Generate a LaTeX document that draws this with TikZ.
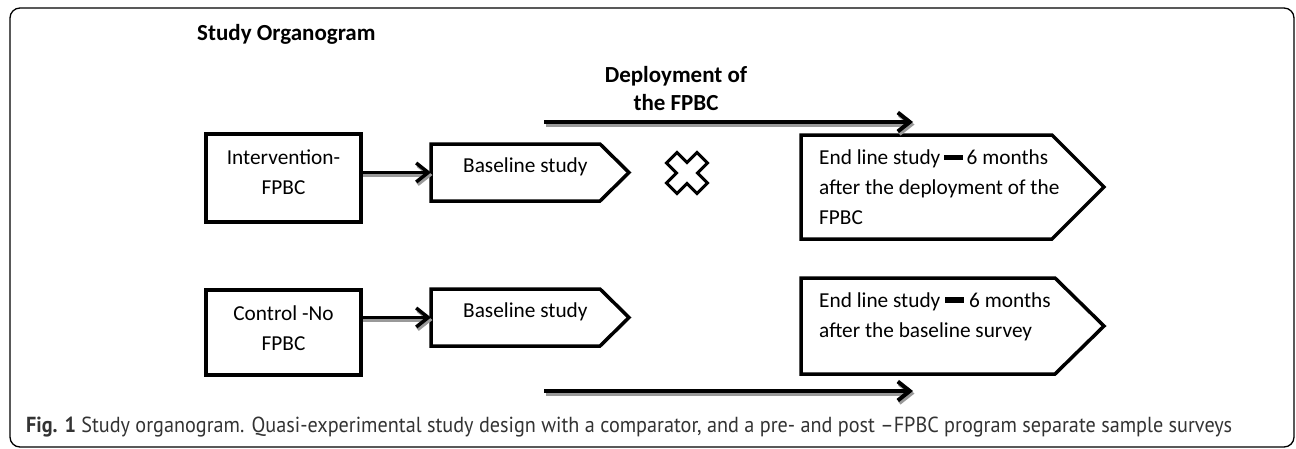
\documentclass[tikz,border=0pt]{standalone}
\usepackage{fontspec}
\setmainfont{Carlito}
\newfontfamily\capfont{PT Sans}
\usetikzlibrary{arrows.meta,calc}
\newcommand\mybar{\rule[0.22em]{0.9em}{0.24em}}
\begin{document}
\begin{tikzpicture}[x=1pt,y=-1pt,
  shp/.style={draw=none, outer sep=0pt, inner sep=0pt},
  boxln/.style={draw=black, line width=3.5pt, line join=miter},
  txt/.style={inner sep=0pt, font=\fontsize{21.3}{30}\selectfont},
  bold/.style={inner sep=0pt, font=\bfseries\fontsize{23}{28}\selectfont},
  arr/.style={line width=3.5pt, -{Straight Barb[length=12pt,width=19pt]}},
  arrsh/.style={arr, draw=black!40, transform canvas={shift={(1.5pt,-2.5pt)}}}]
\useasboundingbox (0,0) rectangle (1296,448);
% frame
\draw[line width=1.3pt, rounded corners=10pt] (10,8) rectangle (1294,447);
% title
\node[bold, anchor=west] (title) at (197,34) {Study Organogram};
\node[bold, align=center] (dep) at (676,89) {Deployment of\\the FPBC};
% boxes
\node[shp, minimum width=155pt, minimum height=88pt] (int) at (283.5,178) {};
\node[shp, minimum width=155pt, minimum height=85pt] (ctl) at (283.5,332.5) {};
\draw[boxln] (int.north west) rectangle (int.south east);
\draw[boxln] (ctl.north west) rectangle (ctl.south east);
\node[txt, align=center] (intT) at (283.5,172.5) {Intervention-\\FPBC};
\node[txt, align=center] (ctlT) at (283.5,328) {Control -No\\FPBC};
% baseline pentagons
\node[shp, minimum width=169pt, minimum height=57pt] (b1) at (515.5,172.5) {};
\node[shp, minimum width=169pt, minimum height=57pt] (b2) at (515.5,317.5) {};
\foreach \n in {b1,b2}{
  \draw[boxln] (\n.north west) -- (\n.north east) -- ($(\n.east)+(29,0)$) -- (\n.south east) -- (\n.south west) -- cycle;}
\node[txt, anchor=west] (b1T) at (463,167) {Baseline study};
\node[txt, anchor=west] (b2T) at (463,312) {Baseline study};
% end line pentagons
\node[shp, minimum width=251pt, minimum height=104pt] (e1) at (926.5,187) {};
\node[shp, minimum width=254pt, minimum height=96pt] (e2) at (928,326) {};
\draw[boxln] (e1.north west) -- (e1.north east) -- ($(e1.east)+(52,0)$) -- (e1.south east) -- (e1.south west) -- cycle;
\draw[boxln] (e2.north west) -- (e2.north east) -- ($(e2.east)+(49,0)$) -- (e2.south east) -- (e2.south west) -- cycle;
\node[txt, anchor=west, align=left] (e1T) at (819,187.5) {End line study\,\mybar\,6 months\\after the deployment of the\\FPBC};
\node[txt, anchor=west, align=left] (e2T) at (819,316.5) {End line study \mybar{} 6 months\\after the baseline survey};
% connectors
\coordinate (ta) at (544,122);
\coordinate (tb) at (913,122);
\coordinate (ba) at (544,391);
\coordinate (bb) at (913,391);
\draw[arrsh] (b1.west -| int.east) -- (b1.west);
\draw[arr] (b1.west -| int.east) -- (b1.west);
\draw[arrsh] (b2.west -| ctl.east) -- (b2.west);
\draw[arr] (b2.west -| ctl.east) -- (b2.west);
\draw[arrsh, line width=4pt] (ta) -- (tb);
\draw[arr, line width=4pt] (ta) -- (tb);
\draw[arrsh, line width=4pt] (ba) -- (bb);
\draw[arr, line width=4pt] (ba) -- (bb);
% cross mark
\begin{scope}[shift={(687,173)}, rotate=45]
\draw[line width=3pt, line join=miter]
 (7.5,21.5) -- (7.5,7.5) -- (21.5,7.5) -- (21.5,-7.5) -- (7.5,-7.5) -- (7.5,-21.5)
 -- (-7.5,-21.5) -- (-7.5,-7.5) -- (-21.5,-7.5) -- (-21.5,7.5) -- (-7.5,7.5) -- (-7.5,21.5) -- cycle;
\end{scope}
% caption
\node[anchor=west, inner sep=0pt, text=black!80] (cap) at (26,427)
 {\resizebox{1206pt}{15.5pt}{\capfont\fontsize{22}{26}\selectfont\textbf{Fig. 1} Study organogram. Quasi-experimental study design with a comparator, and a pre- and post –FPBC program separate sample surveys}};
\end{tikzpicture}
\end{document}
